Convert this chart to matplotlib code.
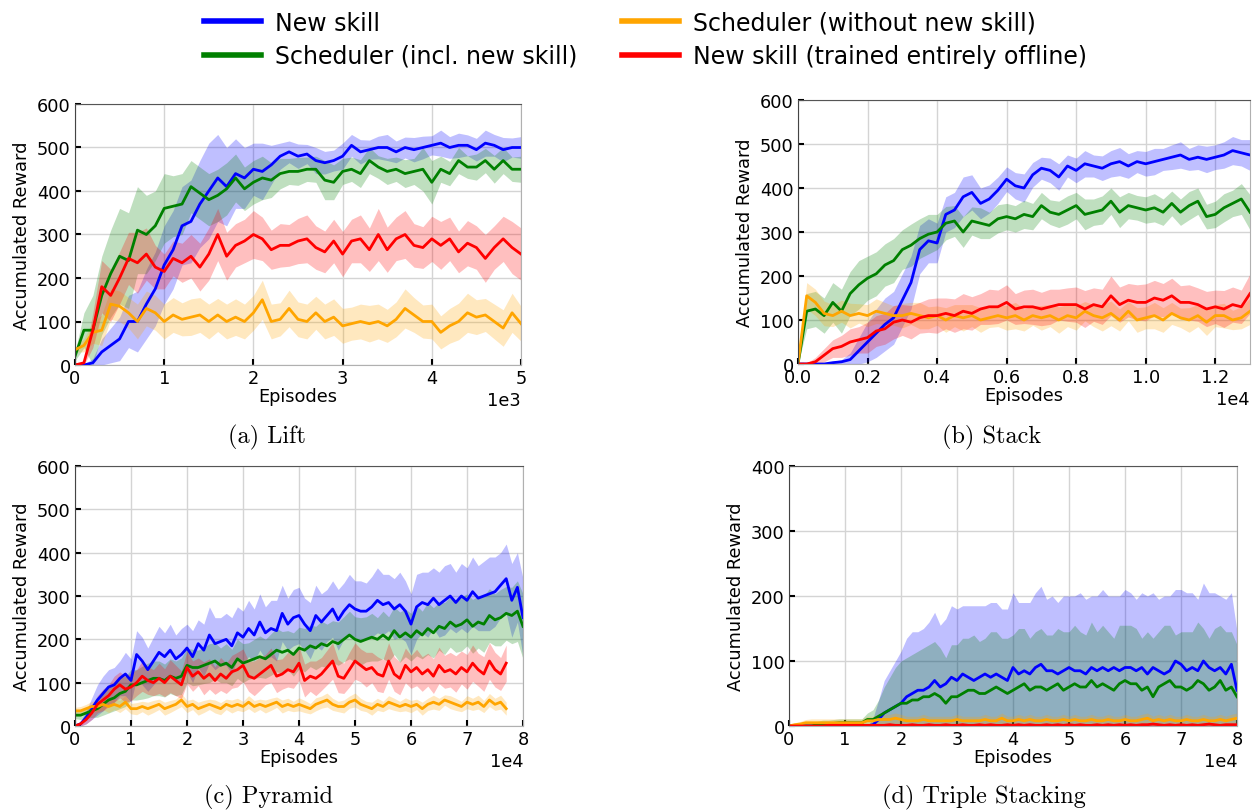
import numpy as np
import matplotlib.pyplot as plt

# Episode grids
lift_x = np.arange(0, 5001, 100)
stack_x = np.arange(0, 13001, 250)
pyr_x = np.arange(0, 80001, 1000)
pyr_x_short = np.arange(0, 77001, 1000)
tri_x = np.arange(0, 80001, 1000)

labels = ["New skill", "Scheduler (incl. new skill)",
          "Scheduler (without new skill)", "New skill (trained entirely offline)"]
colors = ["#0000ff", "#008000", "#ffa500", "#ff0000"]

# (a) Lift
lift_blue = [0, 0, 5, 30, 45, 60, 100, 100, 140, 175,
             230, 265, 320, 330, 370, 400, 430, 410, 440, 430,
             450, 445, 460, 480, 490, 480, 485, 470, 465, 470,
             480, 505, 490, 495, 500, 500, 490, 500, 495, 500,
             505, 510, 500, 505, 505, 495, 510, 505, 495, 500, 500]
lift_blue_sd = [0, 2, 10, 30, 40, 50, 60, 70, 80, 85,
                90, 90, 90, 95, 100, 110, 100, 90, 80, 70,
                60, 65, 45, 30, 25, 28, 22, 30, 26, 24,
                30, 25, 28, 22, 26, 30, 25, 24, 28, 26,
                22, 30, 25, 28, 24, 26, 30, 25, 28, 22, 25]
lift_green = [20, 80, 80, 160, 210, 250, 240, 310, 300, 320,
              360, 365, 370, 410, 395, 380, 390, 405, 430, 405,
              420, 430, 425, 440, 445, 445, 450, 450, 425, 420,
              445, 450, 440, 470, 455, 445, 450, 440, 445, 450,
              420, 450, 440, 470, 455, 455, 470, 450, 470, 450, 450]
lift_green_sd = [10, 40, 80, 90, 100, 110, 110, 100, 90, 80,
                 80, 70, 70, 60, 60, 60, 60, 60, 55, 50,
                 50, 50, 40, 35, 30, 32, 28, 30, 45, 40,
                 30, 28, 32, 30, 26, 30, 28, 32, 30, 50,
                 50, 30, 28, 30, 26, 30, 28, 32, 30, 28, 30]
lift_orange = [35, 45, 75, 80, 140, 135, 120, 100, 130, 120,
               100, 115, 105, 110, 115, 100, 115, 100, 110, 100,
               120, 150, 100, 105, 130, 105, 100, 120, 100, 110,
               90, 95, 100, 95, 100, 90, 105, 130, 115, 100,
               100, 75, 90, 100, 120, 110, 115, 100, 85, 120, 95]
lift_orange_sd = [5, 15, 25, 35, 35, 35, 35, 40, 40, 40,
                  40, 40, 38, 42, 40, 40, 38, 40, 42, 40,
                  40, 45, 40, 38, 42, 40, 40, 38, 40, 42,
                  40, 38, 40, 42, 40, 38, 40, 45, 40, 38,
                  40, 38, 40, 42, 45, 40, 38, 40, 42, 45, 40]
lift_red = [0, 5, 80, 180, 160, 200, 245, 235, 255, 225,
            215, 245, 235, 250, 225, 255, 300, 250, 275, 285,
            300, 290, 265, 275, 275, 285, 290, 270, 260, 285,
            255, 285, 290, 265, 300, 265, 290, 300, 275, 270,
            290, 275, 290, 260, 280, 270, 245, 270, 290, 270, 255]
lift_red_sd = [0, 5, 40, 60, 60, 60, 60, 70, 60, 50,
               40, 40, 45, 50, 55, 60, 60, 55, 50, 50,
               55, 50, 45, 50, 48, 52, 55, 50, 48, 50,
               52, 50, 55, 50, 60, 52, 50, 55, 50, 48,
               52, 55, 50, 48, 52, 50, 55, 50, 52, 60, 60]

# (b) Stack
stack_blue = [0, 0, 0, 0, 3, 5, 10, 30, 50, 70,
              90, 105, 145, 185, 260, 280, 275, 340, 350, 380,
              390, 365, 375, 395, 420, 405, 400, 430, 445, 440,
              425, 450, 440, 455, 450, 445, 455, 460, 450, 460,
              455, 460, 465, 470, 475, 465, 470, 465, 470, 475,
              485, 480, 475]
stack_blue_sd = [0, 0, 0, 0, 3, 5, 15, 30, 45, 55,
                 60, 60, 60, 60, 55, 50, 45, 40, 40, 45,
                 40, 35, 32, 30, 28, 30, 32, 28, 25, 28,
                 30, 25, 28, 30, 25, 28, 30, 32, 28, 25,
                 28, 30, 25, 28, 30, 25, 28, 30, 28, 30,
                 32, 30, 35]
stack_green = [0, 120, 125, 110, 140, 120, 160, 180, 195, 205,
               225, 235, 260, 270, 285, 295, 300, 320, 325, 300,
               325, 320, 315, 330, 335, 330, 340, 335, 360, 345,
               340, 350, 360, 340, 345, 350, 370, 345, 360, 355,
               350, 355, 345, 365, 345, 360, 370, 335, 340, 355,
               365, 375, 345]
stack_green_sd = [0, 40, 40, 40, 45, 50, 50, 55, 50, 50,
                  48, 50, 45, 48, 45, 45, 40, 38, 35, 35,
                  32, 35, 30, 32, 30, 30, 32, 30, 30, 28,
                  30, 32, 30, 35, 30, 32, 30, 35, 30, 28,
                  30, 32, 30, 28, 30, 32, 30, 28, 30, 32,
                  30, 35, 40]
stack_orange = [0, 155, 140, 115, 110, 120, 110, 115, 110, 120,
                115, 110, 110, 115, 110, 105, 110, 100, 110, 105,
                110, 100, 105, 110, 105, 110, 100, 110, 105, 110,
                100, 110, 105, 120, 110, 105, 115, 100, 120, 100,
                105, 110, 100, 115, 105, 100, 110, 95, 110, 110,
                100, 105, 120]
stack_orange_sd = [0, 30, 30, 28, 25, 25, 28, 22, 25, 28,
                   25, 22, 28, 25, 30, 25, 22, 28, 25, 30,
                   25, 28, 22, 25, 28, 30, 25, 22, 28, 25,
                   30, 25, 28, 22, 25, 30, 28, 25, 22, 28,
                   25, 30, 28, 25, 22, 28, 25, 30, 25, 28,
                   22, 25, 30]
stack_red = [0, 0, 5, 20, 35, 40, 50, 55, 60, 75,
             80, 95, 100, 95, 105, 110, 110, 115, 110, 120,
             115, 125, 130, 130, 140, 125, 130, 130, 125, 130,
             135, 135, 135, 125, 135, 130, 155, 135, 145, 140,
             140, 150, 145, 155, 140, 140, 135, 125, 130, 125,
             135, 130, 160]
stack_red_sd = [0, 2, 10, 15, 20, 25, 30, 30, 35, 35,
                35, 38, 35, 38, 35, 38, 40, 35, 38, 40,
                38, 35, 40, 38, 40, 35, 38, 40, 38, 40,
                35, 38, 40, 42, 38, 40, 45, 40, 38, 40,
                42, 40, 38, 40, 38, 40, 38, 40, 38, 42,
                40, 38, 45]

# (c) Pyramid
pyr_blue = [0, 5, 20, 40, 60, 75, 90, 95, 110, 120,
            105, 165, 150, 130, 150, 170, 160, 175, 155, 165,
            180, 160, 190, 175, 210, 190, 195, 200, 185, 215,
            205, 225, 210, 240, 215, 225, 220, 260, 235, 250,
            255, 235, 220, 255, 240, 255, 270, 245, 265, 280,
            270, 265, 265, 275, 290, 280, 285, 270, 280, 265,
            235, 275, 285, 280, 295, 280, 290, 300, 285, 300,
            290, 310, 295, 300, 305, 310, 325, 340, 290, 320, 250]
pyr_blue_sd = [0, 5, 15, 25, 35, 40, 40, 40, 40, 50,
               50, 55, 55, 50, 55, 60, 55, 60, 55, 60,
               55, 60, 55, 60, 65, 60, 55, 60, 65, 60,
               60, 65, 60, 65, 60, 65, 70, 65, 60, 65,
               65, 60, 65, 70, 65, 60, 65, 70, 65, 70,
               65, 70, 65, 70, 75, 70, 65, 70, 75, 70,
               70, 75, 70, 75, 70, 75, 80, 75, 70, 75,
               75, 80, 75, 80, 85, 80, 75, 80, 85, 80, 90]
pyr_green = [25, 25, 30, 35, 40, 50, 60, 65, 75, 80,
             95, 95, 100, 105, 110, 110, 105, 115, 110, 115,
             140, 135, 135, 140, 145, 150, 140, 145, 135, 155,
             145, 150, 155, 160, 155, 165, 175, 170, 175, 165,
             180, 175, 185, 180, 190, 185, 195, 190, 200, 210,
             200, 195, 200, 205, 200, 210, 200, 220, 205, 215,
             205, 220, 210, 225, 215, 230, 225, 240, 230, 235,
             245, 230, 240, 235, 255, 245, 250, 260, 255, 265, 230]
pyr_green_sd = [8, 10, 12, 15, 20, 25, 30, 30, 35, 35,
                35, 35, 38, 40, 40, 40, 38, 40, 40, 42,
                40, 42, 40, 42, 45, 42, 40, 45, 42, 45,
                45, 42, 45, 48, 45, 48, 50, 48, 45, 50,
                48, 50, 48, 50, 52, 50, 48, 50, 52, 55,
                52, 55, 52, 55, 50, 55, 52, 55, 58, 55,
                55, 58, 55, 60, 58, 55, 60, 58, 60, 62,
                60, 62, 60, 65, 62, 60, 65, 62, 65, 70, 75]
pyr_orange = [35, 35, 40, 45, 45, 50, 45, 50, 45, 55,
              40, 40, 45, 40, 45, 50, 40, 45, 50, 60,
              45, 50, 40, 45, 50, 45, 40, 50, 45, 50,
              45, 55, 45, 50, 45, 50, 55, 45, 50, 45,
              50, 45, 40, 50, 55, 60, 50, 45, 45, 55,
              60, 50, 45, 40, 50, 45, 55, 50, 45, 50,
              45, 50, 40, 50, 55, 50, 60, 55, 50, 45,
              55, 50, 55, 45, 60, 50, 55, 40]
pyr_orange_sd = [8, 10, 10, 12, 12, 12, 14, 12, 14, 15,
                 12, 14, 12, 15, 14, 12, 15, 14, 12, 15,
                 14, 12, 15, 14, 12, 15, 14, 12, 15, 14,
                 12, 15, 14, 12, 15, 14, 12, 15, 14, 12,
                 15, 14, 12, 15, 14, 16, 14, 12, 15, 14,
                 16, 14, 12, 15, 14, 12, 15, 14, 12, 15,
                 14, 12, 15, 14, 16, 14, 12, 15, 14, 12,
                 15, 14, 16, 14, 15, 14, 16, 15]
pyr_red = [0, 5, 15, 30, 50, 60, 70, 85, 95, 85,
           90, 100, 115, 105, 100, 110, 100, 115, 105, 95,
           135, 115, 125, 110, 120, 105, 120, 110, 125, 130,
           140, 115, 110, 120, 130, 140, 115, 120, 130, 125,
           145, 105, 115, 110, 120, 135, 150, 115, 110, 130,
           150, 140, 130, 135, 120, 115, 150, 120, 110, 140,
           125, 135, 120, 130, 115, 140, 125, 130, 120, 135,
           125, 145, 130, 120, 150, 130, 120, 145]
pyr_red_sd = [0, 5, 10, 15, 20, 25, 25, 30, 30, 30,
              32, 30, 35, 32, 30, 35, 32, 38, 35, 32,
              38, 35, 32, 38, 35, 32, 38, 35, 38, 40,
              38, 35, 40, 38, 35, 40, 38, 35, 40, 38,
              40, 38, 35, 40, 38, 40, 42, 38, 35, 40,
              42, 38, 40, 35, 40, 38, 42, 40, 38, 40,
              38, 42, 40, 38, 40, 42, 38, 40, 42, 38,
              40, 42, 38, 40, 42, 40, 38, 42]

# (d) Triple Stacking
tri_blue = [0, 0, 0, 0, 0, 0, 0, 0, 0, 0,
            0, 0, 0, 0, 0, 2, 10, 20, 25, 30,
            35, 45, 50, 55, 55, 60, 70, 60, 65, 75,
            70, 80, 75, 70, 75, 80, 75, 80, 75, 70,
            90, 80, 85, 80, 90, 95, 85, 85, 80, 85,
            90, 85, 85, 80, 90, 85, 90, 85, 90, 85,
            90, 90, 85, 90, 80, 90, 85, 80, 85, 100,
            95, 85, 90, 85, 100, 90, 85, 90, 80, 95, 55]
tri_blue_sd = [0, 0, 0, 0, 0, 0, 0, 0, 0, 0,
               0, 0, 0, 0, 0, 10, 30, 50, 60, 70,
               80, 90, 95, 90, 95, 100, 105, 95, 100, 110,
               110, 105, 110, 115, 110, 105, 115, 110, 105, 110,
               115, 110, 105, 110, 115, 120, 110, 115, 110, 115,
               110, 115, 120, 115, 110, 115, 120, 115, 110, 115,
               120, 115, 110, 115, 120, 115, 110, 120, 115, 110,
               115, 120, 115, 110, 120, 115, 120, 110, 115, 110, 90]
tri_green = [0, 0, 0, 0, 0, 2, 3, 3, 4, 5,
             5, 5, 5, 5, 10, 10, 15, 20, 25, 30,
             35, 35, 40, 40, 45, 45, 50, 45, 35, 45,
             45, 50, 55, 55, 50, 50, 55, 60, 55, 50,
             55, 60, 65, 55, 60, 60, 55, 60, 65, 55,
             60, 65, 60, 60, 70, 60, 65, 60, 55, 65,
             70, 65, 65, 55, 60, 45, 60, 65, 70, 60,
             60, 55, 60, 70, 65, 55, 60, 70, 55, 60, 45]
tri_green_sd = [0, 2, 3, 5, 5, 5, 6, 6, 6, 6,
                6, 6, 6, 6, 10, 15, 25, 40, 50, 60,
                65, 70, 70, 75, 75, 80, 80, 75, 70, 80,
                80, 85, 80, 85, 80, 85, 90, 85, 80, 85,
                85, 90, 85, 80, 85, 90, 85, 80, 85, 90,
                85, 90, 85, 80, 90, 85, 90, 85, 80, 90,
                85, 90, 85, 80, 85, 90, 85, 90, 85, 80,
                85, 90, 85, 90, 85, 80, 90, 85, 90, 85, 80]
tri_orange = [0, 2, 3, 5, 5, 5, 5, 5, 5, 5,
              5, 5, 5, 5, 8, 8, 10, 10, 10, 12,
              10, 8, 8, 8, 10, 8, 8, 8, 8, 8,
              10, 8, 8, 8, 8, 10, 8, 8, 12, 8,
              8, 10, 8, 10, 8, 8, 10, 8, 8, 10,
              8, 10, 8, 8, 10, 8, 8, 10, 8, 8,
              10, 8, 8, 10, 12, 8, 10, 8, 10, 8,
              8, 10, 8, 8, 10, 8, 8, 10, 8, 10, 12]
tri_orange_sd = [0, 3, 4, 5, 6, 6, 6, 6, 6, 6,
                 6, 6, 6, 6, 7, 7, 8, 8, 8, 8,
                 8, 7, 7, 7, 8, 7, 7, 7, 7, 7,
                 8, 7, 7, 7, 7, 8, 7, 7, 8, 7,
                 7, 8, 7, 8, 7, 7, 8, 7, 7, 8,
                 7, 8, 7, 7, 8, 7, 7, 8, 7, 7,
                 8, 7, 7, 8, 8, 7, 8, 7, 8, 7,
                 7, 8, 7, 7, 8, 7, 7, 8, 7, 8, 8]
tri_red = [0, 0, 0, 0, 0, 0, 0, 1, 1, 1,
           1, 1, 1, 1, 1, 1, 1, 1, 2, 1,
           1, 1, 2, 1, 1, 2, 1, 1, 2, 1,
           1, 2, 1, 1, 2, 1, 2, 1, 1, 2,
           1, 2, 1, 2, 1, 1, 2, 1, 2, 1,
           2, 1, 2, 1, 1, 2, 1, 2, 1, 2,
           1, 2, 1, 2, 2, 3, 2, 1, 2, 1,
           2, 1, 2, 1, 2, 3, 2, 1, 2, 2, 2]
tri_red_sd = [0, 0, 0, 0, 0, 0, 0, 1, 1, 1,
              1, 1, 1, 1, 1, 1, 1, 1, 2, 1,
              1, 1, 2, 1, 1, 2, 1, 1, 2, 1,
              1, 2, 1, 1, 2, 1, 2, 1, 1, 2,
              1, 2, 1, 2, 1, 1, 2, 1, 2, 1,
              2, 1, 2, 1, 1, 2, 1, 2, 1, 2,
              1, 2, 1, 2, 2, 3, 2, 1, 2, 1,
              2, 1, 2, 1, 2, 3, 2, 1, 2, 2, 2]

FS = 12.8


def panel(ax, series, xlim, xticks, ylim, yticks):
    for x, mean, sd, color in series:
        mean = np.array(mean, dtype=float)
        sd = np.array(sd, dtype=float)
        ax.fill_between(x, mean - sd, mean + sd, color=color, alpha=0.25, lw=0)
    lines = []
    for x, mean, sd, color in series:
        line, = ax.plot(x, mean, color=color, lw=2)
        lines.append(line)
    ax.set_xlim(*xlim)
    ax.set_ylim(*ylim)
    ax.set_xticks(xticks)
    ax.set_yticks(yticks)
    ax.ticklabel_format(axis='x', style='sci', scilimits=(0, 0))
    ax.xaxis.get_offset_text().set_fontsize(FS)
    ax.grid(True, color='#d4d4d4', lw=1)
    ax.set_axisbelow(True)
    ax.tick_params(direction='in', length=4, width=1.5, labelsize=FS,
                   top=False, right=False, colors='black', pad=3)
    ax.spines['left'].set_color('#444444')
    ax.spines['top'].set_color('#555555')
    ax.spines['right'].set_color('#b0b0b0')
    ax.spines['bottom'].set_color('#b0b0b0')
    ax.set_xlabel("Episodes", fontsize=FS, labelpad=0)
    ax.set_ylabel("Accumulated Reward", fontsize=FS, labelpad=4)
    return lines


W, H = 1253, 812
fig = plt.figure(figsize=(W / 100, H / 100), dpi=100)


def add_axes(left, right, top, bottom):
    return fig.add_axes([left / W, (H - bottom) / H, (right - left) / W, (bottom - top) / H])


ax_a = add_axes(75, 521, 105, 366)
ax_b = add_axes(798, 1250, 101, 365)
ax_c = add_axes(75, 523, 467, 727)
ax_d = add_axes(789, 1237, 467, 727)

handles = panel(ax_a, [(lift_x, lift_blue, lift_blue_sd, colors[0]),
                       (lift_x, lift_green, lift_green_sd, colors[1]),
                       (lift_x, lift_orange, lift_orange_sd, colors[2]),
                       (lift_x, lift_red, lift_red_sd, colors[3])],
                (0, 5000), np.arange(0, 5001, 1000), (0, 600), np.arange(0, 601, 100))
panel(ax_b, [(stack_x, stack_blue, stack_blue_sd, colors[0]),
             (stack_x, stack_green, stack_green_sd, colors[1]),
             (stack_x, stack_orange, stack_orange_sd, colors[2]),
             (stack_x, stack_red, stack_red_sd, colors[3])],
      (0, 13000), np.arange(0, 12001, 2000), (0, 600), np.arange(0, 601, 100))
panel(ax_c, [(pyr_x, pyr_blue, pyr_blue_sd, colors[0]),
             (pyr_x, pyr_green, pyr_green_sd, colors[1]),
             (pyr_x_short, pyr_orange, pyr_orange_sd, colors[2]),
             (pyr_x_short, pyr_red, pyr_red_sd, colors[3])],
      (0, 80000), np.arange(0, 80001, 10000), (0, 600), np.arange(0, 601, 100))
panel(ax_d, [(tri_x, tri_blue, tri_blue_sd, colors[0]),
             (tri_x, tri_green, tri_green_sd, colors[1]),
             (tri_x, tri_orange, tri_orange_sd, colors[2]),
             (tri_x, tri_red, tri_red_sd, colors[3])],
      (0, 80000), np.arange(0, 80001, 10000), (0, 400), np.arange(0, 401, 100))

# captions
cap = dict(fontsize=17.5, family='cmr10', ha='center', va='center')
fig.text(267 / W, 1 - 437 / H, "(a) Lift", **cap)
fig.text(992 / W, 1 - 437 / H, "(b) Stack", **cap)
fig.text(268 / W, 1 - 797 / H, "(c) Pyramid", **cap)
fig.text(984 / W, 1 - 797 / H, "(d) Triple Stacking", **cap)

leg = fig.legend(handles, labels, loc='upper center', bbox_to_anchor=(0.515, 1.012),
                 ncol=2, frameon=False, fontsize=17, handlelength=2.4,
                 handletextpad=0.6, columnspacing=1.9, labelspacing=0.4)
for h in leg.legend_handles:
    h.set_linewidth(4)

fig.savefig("out.png", dpi=100)
